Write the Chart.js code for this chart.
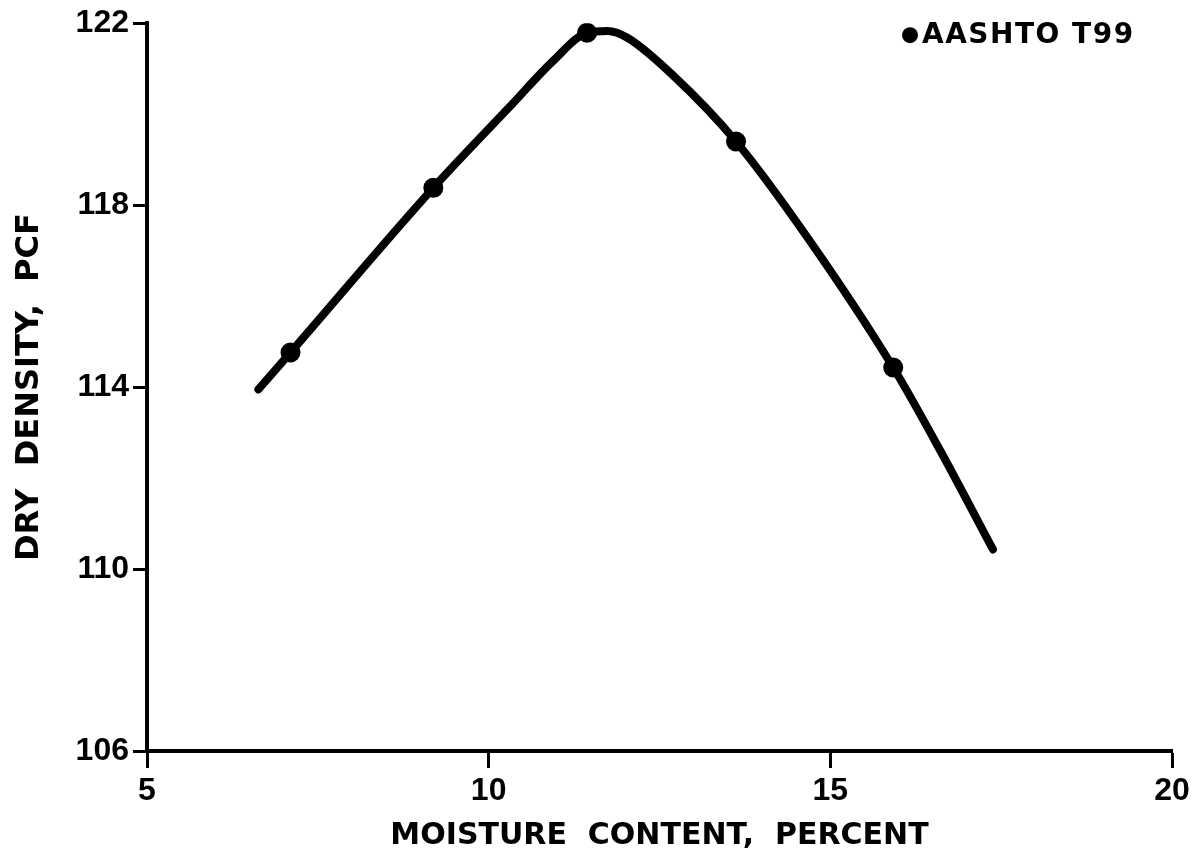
<!DOCTYPE html>
<html>
<head>
<meta charset="utf-8">
<title>Moisture-density curve</title>
<script src="https://cdn.jsdelivr.net/npm/chart.js@4"></script>
<style>
    html, body { margin: 0; padding: 0; background: #fff; }
    #wrap { width: 1195px; height: 864px; position: relative; }
</style>
</head>
<body>
<div id="wrap"><canvas id="compaction-chart"></canvas></div>
<script>
// Compaction test results (AASHTO T99)
const moistureTests = [7.10, 9.19, 11.44, 13.62, 15.92];
const densityTests = [114.76, 118.38, 121.79, 119.40, 114.43];

// Hand-drawn curve through the test points, traced along its length
const curveMoisture = [6.63, 7.10, 9.19, 10.30, 10.95, 11.44, 11.74, 12.03, 12.70, 13.62, 14.66, 15.92, 16.61, 17.38];
const curveDensity = [113.95, 114.76, 118.38, 120.15, 121.18, 121.79, 121.83, 121.68, 120.85, 119.40, 117.30, 114.43, 112.60, 110.43];

// Axis ticks
const moistureTicks = [5, 10, 15, 20];
const densityTicks = [106, 110, 114, 118, 122];

const testLabel = 'AASHTO T99';
const xTitle = 'MOISTURE  CONTENT,  PERCENT';
const yTitle = 'DRY  DENSITY,  PCF';

const toPoints = (xs, ys) => xs.map((x, i) => ({ x: x, y: ys[i] }));

const tickFont = { family: '"Liberation Sans", Arial, sans-serif', size: 32, weight: 'bold' };
const titleFont = { family: '"DejaVu Sans", sans-serif', weight: 'bold' };

// Key in the top right corner: a dot followed by the dataset label
const markerKey = {
    id: 'markerKey',
    afterDraw(chart) {
        const { ctx, chartArea } = chart;
        const ds = chart.data.datasets[1];
        const cx = chartArea.right - 262;
        const cy = chartArea.top + 12;
        ctx.save();
        ctx.fillStyle = ds.backgroundColor;
        ctx.beginPath();
        ctx.arc(cx, cy, 8, 0, Math.PI * 2);
        ctx.fill();
        ctx.font = 'bold 28px "DejaVu Sans", sans-serif';
        ctx.letterSpacing = '1.5px';
        ctx.textBaseline = 'middle';
        ctx.textAlign = 'left';
        ctx.fillText(ds.label, cx + 12, cy + 1);
        ctx.restore();
    }
};

const canvas = document.getElementById('compaction-chart');

new Chart(canvas, {
    type: 'scatter',
    data: {
        datasets: [
            {
                label: 'curve',
                data: toPoints(curveMoisture, curveDensity),
                showLine: true,
                borderColor: '#000',
                borderWidth: 8,
                borderCapStyle: 'round',
                borderJoinStyle: 'round',
                cubicInterpolationMode: 'monotone',
                pointRadius: 0,
                fill: false
            },
            {
                label: testLabel,
                data: toPoints(moistureTests, densityTests),
                showLine: false,
                backgroundColor: '#000',
                borderColor: '#000',
                borderWidth: 0,
                pointRadius: 10,
                pointStyle: 'circle'
            }
        ]
    },
    options: {
        responsive: true,
        maintainAspectRatio: false,
        animation: false,
        layout: { padding: { top: 23, right: 23, bottom: 0, left: 0 } },
        plugins: {
            legend: { display: false },
            tooltip: { enabled: false }
        },
        scales: {
            x: {
                type: 'linear',
                min: moistureTicks[0],
                max: moistureTicks[moistureTicks.length - 1],
                afterBuildTicks: (scale) => { scale.ticks = moistureTicks.map(v => ({ value: v })); },
                afterFit: (scale) => { scale.height = 113; },
                ticks: { color: '#000', font: tickFont, padding: 4, maxRotation: 0 },
                grid: { drawOnChartArea: false, color: '#000', tickLength: 17, tickWidth: 3 },
                border: { color: '#000', width: 4 },
                title: {
                    display: true,
                    text: xTitle,
                    color: '#000',
                    font: { ...titleFont, size: 30 },
                    padding: { top: 0, bottom: 10 }
                }
            },
            y: {
                type: 'linear',
                min: densityTicks[0],
                max: densityTicks[densityTicks.length - 1],
                afterBuildTicks: (scale) => { scale.ticks = densityTicks.map(v => ({ value: v })); },
                afterFit: (scale) => { scale.width = 147; },
                ticks: { color: '#000', font: tickFont, padding: 4 },
                grid: { drawOnChartArea: false, color: '#000', tickLength: 14, tickWidth: 3 },
                border: { color: '#000', width: 4 },
                title: {
                    display: true,
                    text: yTitle,
                    color: '#000',
                    font: { ...titleFont, size: 32 },
                    padding: { top: 10, bottom: 0 }
                }
            }
        }
    },
    plugins: [markerKey]
});
</script>
</body>
</html>
